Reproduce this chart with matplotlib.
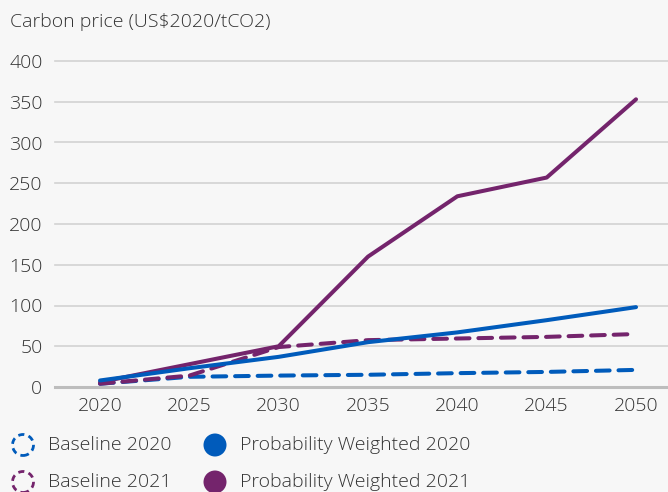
import matplotlib
matplotlib.use("Agg")
import matplotlib.pyplot as plt
from matplotlib.patches import Ellipse

years = [2020, 2025, 2030, 2035, 2040, 2045, 2050]
baseline_2020 = [4, 12.5, 14, 15, 17, 18.5, 21]
baseline_2021 = [4, 14, 49, 57.5, 59.5, 61.5, 65]
prob_weighted_2020 = [8, 23, 37, 55, 67, 82, 98]
prob_weighted_2021 = [6, 28, 50, 160, 234, 257, 353]
y_ticks = [0, 50, 100, 150, 200, 250, 300, 350, 400]
title = "Carbon price (US$2020/tCO2)"
legend_labels = ["Baseline 2020", "Probability Weighted 2020",
                 "Baseline 2021", "Probability Weighted 2021"]

BLUE = "#005BBB"
PURPLE = "#74246C"
BG = "#F7F7F7"
TXT = "#333333"
FONT = "Open Sans"
FW = "light"

W, H = 668, 492
fig = plt.figure(figsize=(W / 100, H / 100), dpi=100, facecolor=BG)
ax = fig.add_axes([55 / W, (H - 387) / H, (W - 55) / W, 326 / H], facecolor=BG)
ax.set_xlim(2017.48, 2051.79)
ax.set_ylim(0, 400)

for v in y_ticks:
    if v == 0:
        ax.axhline(v, color="#BDBDBD", lw=2.2, zorder=1, clip_on=False)
    else:
        ax.axhline(v, color="#D2D2D2", lw=1.2, zorder=1, clip_on=False)

ax.plot(years, baseline_2020, color=BLUE, lw=2.9, dashes=(3.4, 2.2),
        dash_capstyle="round", solid_capstyle="round", zorder=3, clip_on=False)
ax.plot(years, baseline_2021, color=PURPLE, lw=2.9, dashes=(3.4, 2.2),
        dash_capstyle="round", solid_capstyle="round", zorder=3, clip_on=False)
ax.plot(years, prob_weighted_2021, color=PURPLE, lw=2.9,
        solid_capstyle="round", zorder=4, clip_on=False)
ax.plot(years, prob_weighted_2020, color=BLUE, lw=2.9,
        solid_capstyle="round", zorder=5, clip_on=False)

for s in ax.spines.values():
    s.set_visible(False)
ax.set_xticks(years)
ax.set_xticklabels([str(y) for y in years], fontsize=14, color=TXT,
                   family=FONT, fontweight=FW)
ax.set_yticks(y_ticks)
ax.set_yticklabels([str(v) for v in y_ticks], fontsize=14, color=TXT,
                   family=FONT, fontweight=FW)
ax.tick_params(axis="both", length=0)
ax.tick_params(axis="x", pad=7)
ax.tick_params(axis="y", pad=9)

fig.text(10 / W, 1 - 22 / H, title, fontsize=14, color=TXT, family=FONT,
         fontweight=FW, va="center", ha="left")

# legend
rows = [445, 482]
cols = [23, 215]
entries = [(0, 0, BLUE, True), (0, 1, BLUE, False),
           (1, 0, PURPLE, True), (1, 1, PURPLE, False)]
for (r, c, col, dashed), lab in zip(entries, legend_labels):
    cx, cy = cols[c] / W, 1 - rows[r] / H
    if dashed:
        e = Ellipse((cx, cy), 21 / W, 21 / H, transform=fig.transFigure,
                    facecolor="none", edgecolor=col, lw=2.0, linestyle=(0, (2.2, 1.6)))
    else:
        e = Ellipse((cx, cy), 23 / W, 23 / H, transform=fig.transFigure,
                    facecolor=col, edgecolor="none")
    fig.add_artist(e)
    fig.text((cols[c] + 25) / W, cy, lab, fontsize=14, color=TXT, family=FONT,
             fontweight=FW, va="center", ha="left")

fig.savefig("out.png", dpi=100, facecolor=BG)
